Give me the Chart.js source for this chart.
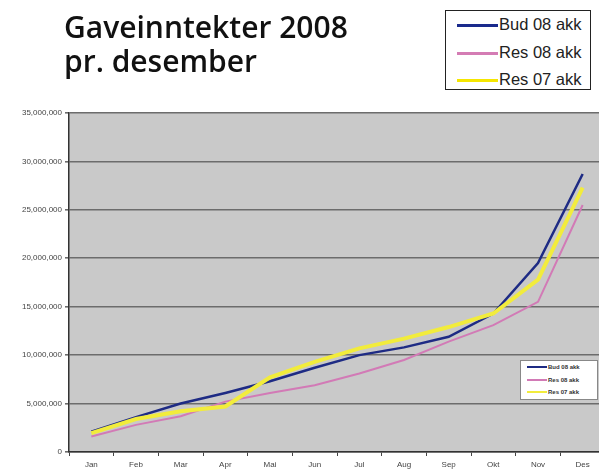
<!DOCTYPE html>
<html>
<head>
<meta charset="utf-8">
<script src="https://cdn.jsdelivr.net/npm/chart.js@4.4.0/dist/chart.umd.min.js"></script>
<style>
  html, body { margin: 0; padding: 0; background: #fff; overflow: hidden; }
  body { width: 599px; height: 472px; position: relative; }
  #wrap { position: absolute; left: 0; top: 0; width: 610px; height: 472px; }
  #title {
    position: absolute; left: 64px; top: 10px; margin: 0;
    font-family: "Open Sans", sans-serif; font-weight: 600; font-size: 30px;
    line-height: 34px; color: #111;
  }
  #legendTop {
    position: absolute; left: 445px; top: 10px; width: 146px; height: 80px;
    border: 1px solid #222; background: #fff; box-sizing: border-box;
    font-family: "Liberation Sans", Arial, sans-serif; font-size: 16.5px; color: #222;
  }
  #legendTop div { position: absolute; left: 11px; height: 20px; line-height: 20px; white-space: nowrap; }
  #legendTop span.ln { display: inline-block; width: 41px; height: 3px; vertical-align: middle; margin-right: 1px; }
  #legendIn {
    position: absolute; left: 520px; top: 360px; width: 78px; height: 40px;
    border: 1px solid #888; background: #fff; box-sizing: border-box;
    font-family: "Liberation Sans", Arial, sans-serif; font-size: 6px; font-weight: bold; color: #333;
  }
  #legendIn div { position: absolute; left: 6px; height: 8px; line-height: 8px; white-space: nowrap; }
  #legendIn span.ln { display: inline-block; width: 20px; height: 2px; vertical-align: middle; margin-right: 1px; }
</style>
</head>
<body>
<div id="wrap"><canvas id="myChart" width="610" height="472"></canvas></div>
<h1 id="title">Gaveinntekter 2008<br>pr. desember</h1>
<div id="legendTop"></div>
<div id="legendIn"></div>
<script>
// values, NOK accumulated per month
const months = ['Jan', 'Feb', 'Mar', 'Apr', 'Mai', 'Jun', 'Jul', 'Aug', 'Sep', 'Okt', 'Nov', 'Des'];
const bud08 = [2100000, 3600000, 5000000, 6100000, 7300000, 8700000, 10000000, 10800000, 11900000, 14300000, 19500000, 28700000];
const res08 = [1600000, 2800000, 3700000, 5200000, 6100000, 6900000, 8100000, 9500000, 11400000, 13100000, 15500000, 25500000];
const res07 = [1950000, 3400000, 4200000, 4700000, 7700000, 9300000, 10700000, 11700000, 12900000, 14300000, 17800000, 27300000];
const seriesNames = ['Bud 08 akk', 'Res 08 akk', 'Res 07 akk'];
const yTicks = [0, 5000000, 10000000, 15000000, 20000000, 25000000, 30000000, 35000000];

const lineColors = ['#1e2b84', '#d27ab6', '#f2ec3c'];
const legendColors = ['#1a2a8c', '#d47cb4', '#f5e600'];

var ctx = document.getElementById('myChart').getContext('2d');

const plotBg = {
  id: 'plotBg',
  beforeDraw(chart) {
    const a = chart.chartArea;
    const c = chart.ctx;
    c.save();
    c.fillStyle = '#c9c9c9';
    c.fillRect(a.left, a.top, a.right - a.left, a.bottom - a.top);
    c.restore();
  }
};

var myChart = new Chart(ctx, {
  type: 'line',
  data: {
    labels: months,
    datasets: [
      { label: seriesNames[0], data: bud08, borderColor: lineColors[0], borderWidth: 2.5, order: 2 },
      { label: seriesNames[1], data: res08, borderColor: lineColors[1], borderWidth: 2, order: 1 },
      { label: seriesNames[2], data: res07, borderColor: lineColors[2], borderWidth: 4, order: 0 }
    ]
  },
  options: {
    responsive: false,
    animation: false,
    elements: { point: { radius: 0 }, line: { tension: 0, fill: false } },
    layout: { padding: { top: 113, right: 5, left: 0, bottom: 0 } },
    plugins: { legend: { display: false }, tooltip: { enabled: false } },
    scales: {
      x: {
        offset: true,
        grid: { display: true, drawOnChartArea: false, color: '#444', tickLength: 4, offset: true },
        border: { color: '#333', width: 1.5 },
        ticks: { color: '#444', font: { family: 'Liberation Sans', size: 8 }, padding: 4, maxRotation: 0 },
        afterFit(scale) { scale.height = 20; }
      },
      y: {
        min: 0,
        max: 35000000,
        afterBuildTicks(scale) { scale.ticks = yTicks.map(v => ({ value: v })); },
        grid: { color: '#6c6c6c', lineWidth: 1.6, tickLength: 4 },
        border: { color: '#333', width: 1.5 },
        ticks: {
          color: '#444',
          font: { family: 'Liberation Sans', size: 8 },
          padding: 3,
          callback: v => v.toLocaleString('en-US')
        },
        afterFit(scale) { scale.width = 69; }
      }
    }
  },
  plugins: [plotBg]
});

function buildLegend(id, colors, top0, step) {
  const box = document.getElementById(id);
  seriesNames.forEach((name, i) => {
    const row = document.createElement('div');
    row.style.top = (top0 + i * step) + 'px';
    row.innerHTML = '<span class="ln" style="background:' + colors[i] + '"></span>' + name;
    box.appendChild(row);
  });
}
buildLegend('legendTop', legendColors, 3, 27.5);
buildLegend('legendIn', lineColors, 2, 12.5);
</script>
</body>
</html>
